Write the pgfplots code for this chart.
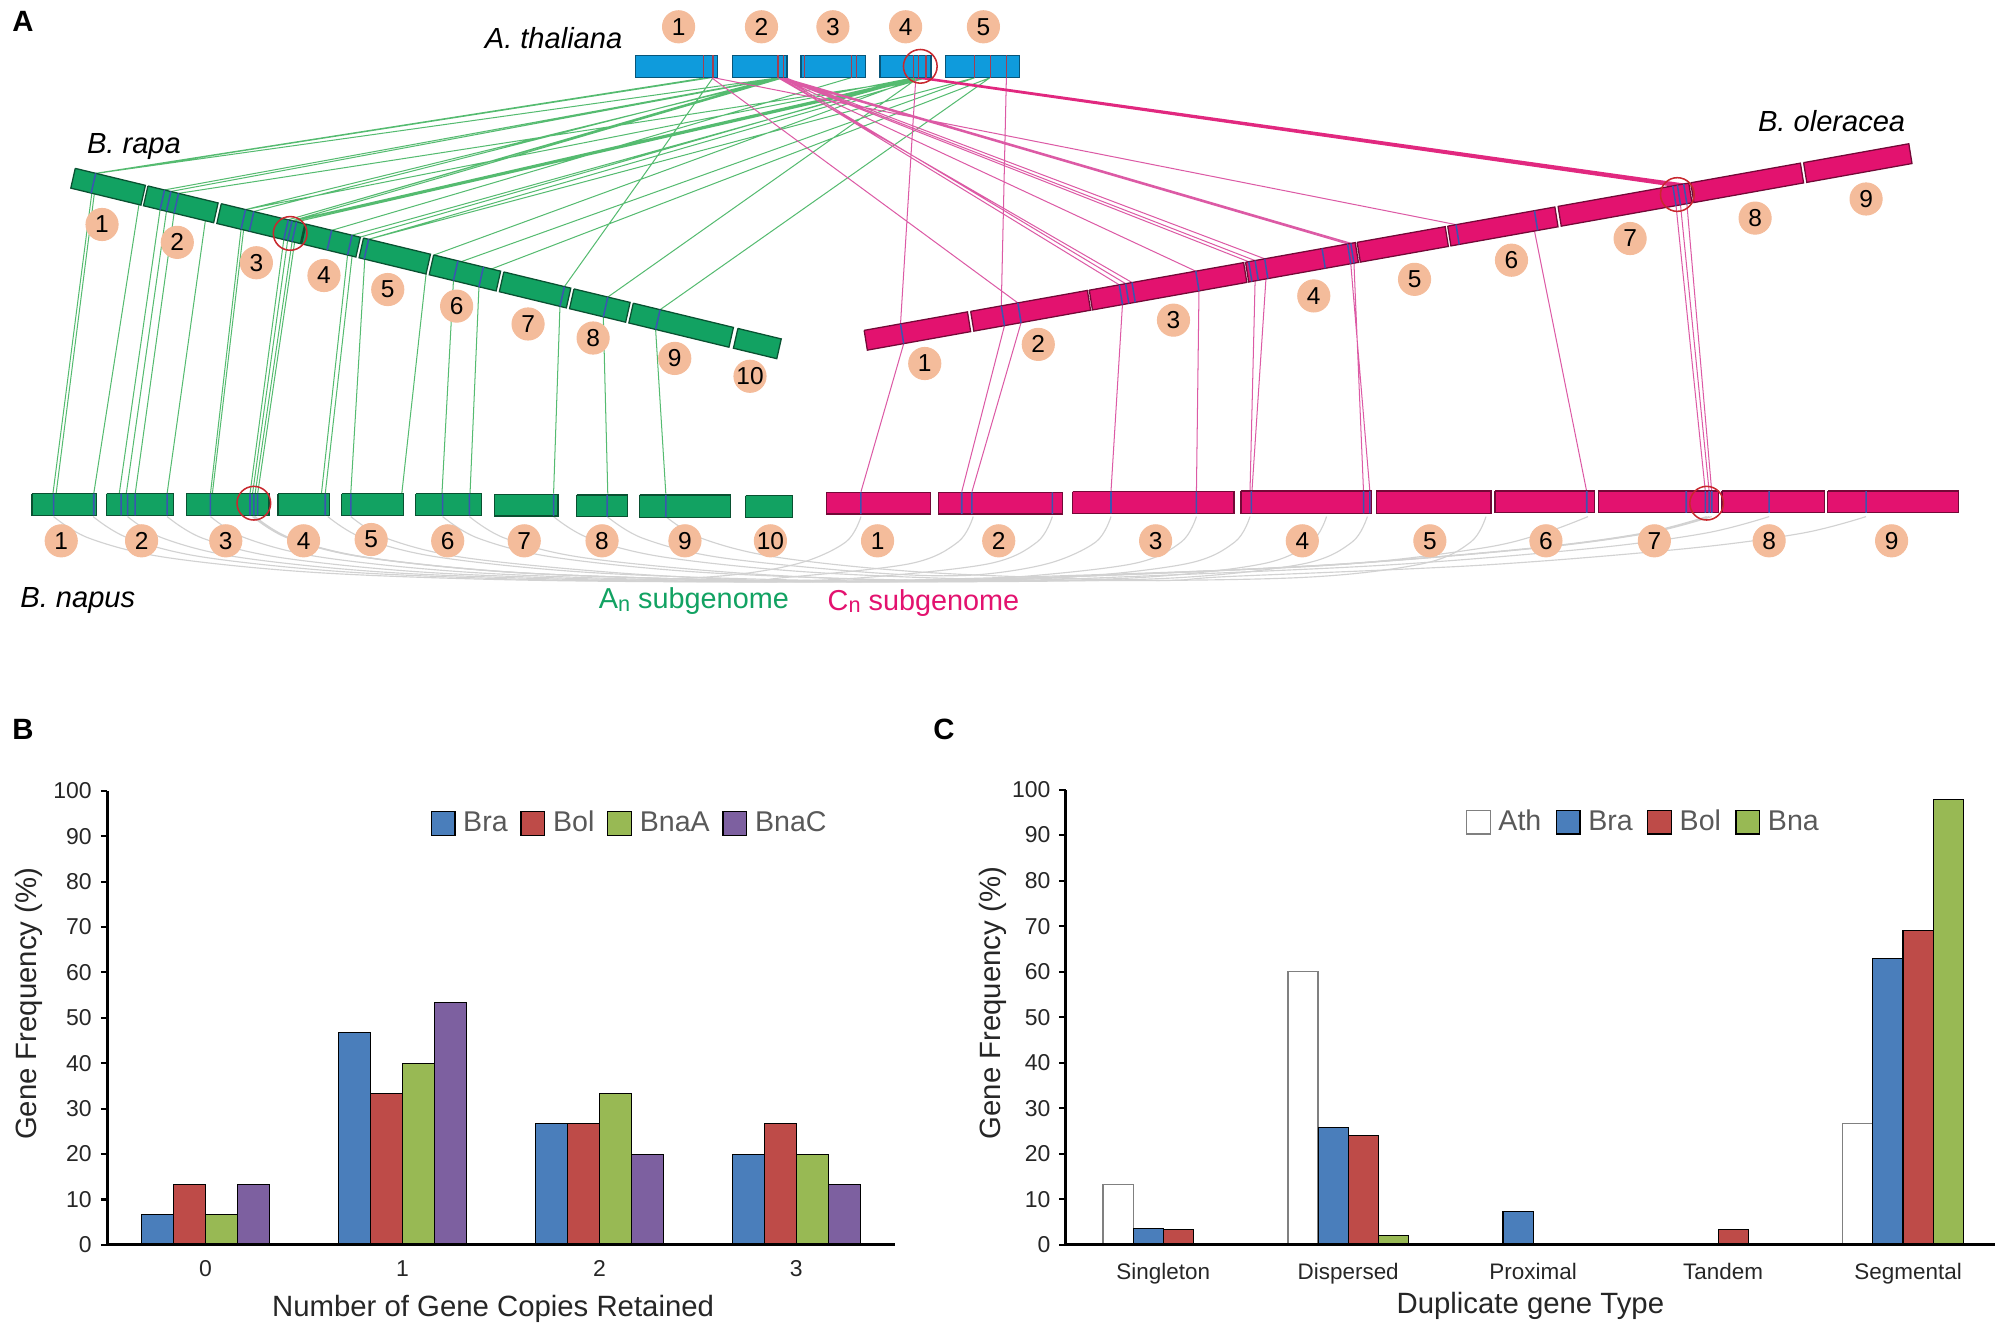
\documentclass[border=0pt]{standalone}
\usepackage{fontspec}
\setmainfont{Liberation Sans}
\usepackage{pgfplots}
\usepackage{pgfplotstable}
\pgfplotsset{compat=1.18}

\definecolor{barBlue}{HTML}{4A7EBB}
\definecolor{barRed}{HTML}{BE4B48}
\definecolor{barGreen}{HTML}{98B954}
\definecolor{barPurple}{HTML}{7D60A0}
\definecolor{atBlue}{HTML}{0F9BDC}
\definecolor{chrGreen}{HTML}{12A262}
\definecolor{chrPink}{HTML}{E3126F}
\definecolor{linkGreen}{HTML}{55BB70}
\definecolor{linkPink}{HTML}{DC5AA5}
\definecolor{bandBlue}{HTML}{3A55B0}
\definecolor{numCircle}{HTML}{F4BC9B}
\definecolor{ringRed}{HTML}{C8282E}
\definecolor{arcGrey}{HTML}{D2D2D2}
\definecolor{axText}{HTML}{262626}
\definecolor{legText}{HTML}{595959}

\pgfplotstableread{
cat Bra Bol BnaA BnaC
0 6.67 13.33 6.67 13.33
1 46.67 33.33 40 53.33
2 26.67 26.67 33.33 20
3 20 26.67 20 13.33
}\copies

\pgfplotstableread{
cat Ath Bra Bol Bna
0 13.33 3.5 3.3 0
1 60 25.8 24 2
2 0 7.4 0 0
3 0 0 3.3 0
4 26.67 62.8 69 97.8
}\dups

\pgfplotsset{
  freq/.style={
    scale only axis,
    ybar=0pt,
    ymin=0, ymax=100,
    ytick={0,10,...,100},
    xtick=data,
    axis x line*=bottom,
    axis y line*=left,
    axis on top,
    axis line style={line width=1.2pt,-},
    tick align=outside,
    ytick style={line width=0.8pt,black},
    xtick style={draw=none},
    major tick length=2.5pt,
    tick label style={font=\fontsize{9}{10}\selectfont,text=axText},
    /pgf/number format/assume math mode=true,
    label style={font=\fontsize{11.5}{13}\selectfont,text=axText},
    ylabel={Gene Frequency (\%)},
    legend columns=-1,
    legend cell align=left,
    legend image code/.code={\draw[##1,line width=0.5pt] (0pt,-4.6pt) rectangle (9.3pt,4.6pt);},
    legend style={draw=none,fill=none,anchor=west,inner sep=0pt,
      font=\fontsize{11.2}{13}\selectfont,text=legText,
      nodes={inner sep=0pt},
      /tikz/every odd column/.append style={column sep=3pt},
      /tikz/every even column/.append style={column sep=5pt}},
  },
  bar/.style={fill=#1,draw=black,line width=0.4pt},
}

\begin{document}
\begin{tikzpicture}
\path[use as bounding box] (0,0) rectangle (784pt,525.5pt);

% panel A, plotted in image coordinates
\begin{axis}[
  at={(0pt,0pt)}, anchor=south west,
  scale only axis, width=784pt, height=525.5pt,
  xmin=0, xmax=1568, ymin=0, ymax=1051, y dir=reverse,
  hide axis, unbounded coords=jump, clip=false,
]
% grey arcs inside B. napus
\pgfplotsset{arc/.style={arcGrey,line width=0.45pt,smooth,tension=0.55}}
\addplot[arc] coordinates {(42,405)(70,422)(130,437)(250,449)(422,455)(640,456)(840,452)(1040,443)(1200,430)(1290,418)(1340,405)};
\addplot[arc] coordinates {(73,405)(101,422)(161,437)(281,449)(453,455)(560,452)(625,442)(663,425)(675,405)};
\addplot[arc] coordinates {(100,405)(128,422)(188,437)(308,449)(480,455)(640,456)(845,451)(1045,443)(1160,430)(1210,418)(1245,405)};
\addplot[arc] coordinates {(131,405)(159,422)(219,437)(339,449)(511,455)(680,456)(830,453)(930,442)(968,425)(980,405)};
\addplot[arc] coordinates {(165,405)(193,422)(253,437)(373,449)(545,455)(772,456)(922,453)(1022,442)(1060,425)(1072,405)};
\addplot[arc] coordinates {(199,405)(227,422)(287,437)(407,449)(579,455)(700,456)(838,452)(1038,443)(1198,430)(1288,418)(1338,405)};
\addplot[arc] coordinates {(257,405)(285,422)(345,437)(465,449)(637,455)(790,455)(887,452)(1087,443)(1247,430)(1337,418)(1387,405)};
\addplot[arc] coordinates {(275,405)(303,422)(363,437)(483,449)(600,455)(675,453)(775,442)(813,425)(825,405)};
\addplot[arc] coordinates {(347,405)(375,422)(435,437)(555,449)(727,455)(842,452)(1042,443)(1202,430)(1292,418)(1342,405)};
\addplot[arc] coordinates {(368,405)(396,422)(456,437)(576,449)(700,455)(788,453)(888,442)(926,425)(938,405)};
\addplot[arc] coordinates {(434,405)(462,422)(522,437)(642,449)(814,455)(1015,453)(1115,442)(1153,425)(1165,405)};
\addplot[arc] coordinates {(476,405)(504,422)(564,437)(684,449)(760,451)(821,442)(859,425)(871,405)};
\addplot[arc] coordinates {(522,405)(550,422)(610,437)(730,449)(902,455)(963,452)(1163,443)(1323,430)(1413,418)(1463,405)};
\addplot[arc] coordinates {(198,405)(226,422)(286,437)(406,449)(578,455)(613,453)(713,442)(751,425)(763,405)};
\addplot[arc] coordinates {(200,405)(228,422)(288,437)(408,449)(580,455)(740,456)(890,453)(990,442)(1028,425)(1040,405)};

% links A. thaliana - B. rapa
\addplot[linkGreen,line width=0.4pt] coordinates {
(553,61)(75,135.9)(nan,nan)(555,61)(75.5,136)(nan,nan)(557,61)(76,136)(nan,nan)
(610,61)(75,136)(nan,nan)(610,61)(129,148.9)(nan,nan)(612,61)(134,150.1)(nan,nan)
(726,61)(140,151.6)(nan,nan)(614,61)(192.5,164.3)(nan,nan)(610,61)(199,165.8)(nan,nan)
(716,61)(192.5,164.3)(nan,nan)(612,61)(226,172.3)(nan,nan)(614,61)(229,173.1)(nan,nan)
(718,61)(229,173.1)(nan,nan)(720,61)(232.5,173.9)(nan,nan)(722,61)(230,173.3)(nan,nan)
(726,61)(232.5,173.9)(nan,nan)(667,61)(260,180.6)(nan,nan)(610,61)(226,172.3)(nan,nan)
(720,61)(276,184.4)(nan,nan)(726,61)(289,187.6)(nan,nan)(764,61)(289,187.6)(nan,nan)
(716,61)(282,186)(nan,nan)(720,61)(340,200)(nan,nan)(764,61)(362,205)(nan,nan)
(776,61)(385,211)(nan,nan)(559,61)(442.5,224.7)(nan,nan)(720,61)(476.5,232.9)(nan,nan)
(776,61)(517.5,242.8)
};
% links B. rapa - B. napus
\addplot[linkGreen,line width=0.4pt] coordinates {
(72,151.4)(41.5,387)(nan,nan)(74,151.4)(44,387)(nan,nan)(109,160)(73.5,387)(nan,nan)
(125.5,164.4)(93.5,387)(nan,nan)(130.5,165.6)(99,387)(nan,nan)(136.5,167.1)(106,387)(nan,nan)
(161,173)(131,387)(nan,nan)(189,179.8)(165,387)(nan,nan)(191,180)(166.5,387)(nan,nan)
(222.5,187.8)(196,387)(nan,nan)(225.5,188.6)(198,387)(nan,nan)(229,189.4)(200,387)(nan,nan)
(231,189.8)(202,387)(nan,nan)(272.5,199.9)(252,387)(nan,nan)(276,201)(255,387)(nan,nan)
(286,203)(275,387)(nan,nan)(334,215)(315,387)(nan,nan)(355.5,220)(346.5,387)(nan,nan)
(375.5,224.8)(368.5,387)(nan,nan)(439,240.2)(434,387)(nan,nan)(473,248.4)(476.5,387)(nan,nan)
(514,258.3)(522,387)
};
% links A. thaliana - B. oleracea
\addplot[linkPink,line width=0.4pt] coordinates {
(718,61)(706,253.9)(nan,nan)(789,61)(785,239.8)(nan,nan)(558,61)(798,237.5)(nan,nan)
(612,61)(877.5,223.3)(nan,nan)(614,61)(882.5,222.4)(nan,nan)(610,61)(887.5,221.5)(nan,nan)
(612,61)(937.5,212.6)(nan,nan)(612,61)(979,205.2)(nan,nan)(614,61)(984,204.3)(nan,nan)
(616,61)(991.5,202.9)(nan,nan)(610,61)(1056.5,191.3)(nan,nan)(612,61)(1059,190.9)(nan,nan)
(614,61)(1059.5,190.8)(nan,nan)(560,61)(1141.5,176.1)
};
\addplot[chrPink!70!linkPink,line width=0.5pt] coordinates {
(718,61)(1311.5,145.8)(nan,nan)(720,61)(1313,145.5)(nan,nan)(721,61)(1315,145.1)(nan,nan)
(723,61)(1318,144.6)(nan,nan)(725,61)(1320,144.3)
};
% links B. oleracea - B. napus
\addplot[linkPink,line width=0.4pt] coordinates {
(708.5,269.4)(675,385.5)(nan,nan)(787.5,255.3)(754,385.5)(nan,nan)(800.5,253)(762,385.5)(nan,nan)
(880,238.8)(871,385.5)(nan,nan)(940,228)(938,385.5)(nan,nan)(984,220)(980,385.5)(nan,nan)
(992.5,218.6)(981.5,385.5)(nan,nan)(1059,206.8)(1074,385.5)(nan,nan)(1061.5,206.4)(1069,385.5)(nan,nan)
(1203,181)(1244,385.5)(nan,nan)(1314,161.3)(1337,385.5)(nan,nan)(1317.5,160.6)(1340,385.5)(nan,nan)
(1322.5,159.8)(1342,385.5)
};

% chromosomes
\addplot[fill=atBlue,draw=atBlue!55!black,line width=0.5pt] coordinates {
(498.5,43.5)(562.5,43.5)(562.5,61)(498.5,61)(498.5,43.5)(nan,nan)
(574,43.5)(617,43.5)(617,61)(574,61)(574,43.5)(nan,nan)
(628,43.5)(678.5,43.5)(678.5,61)(628,61)(628,43.5)(nan,nan)
(690,43.5)(730,43.5)(730,61)(690,61)(690,43.5)(nan,nan)
(741.5,43.5)(799,43.5)(799,61)(741.5,61)(741.5,43.5)
};
\addplot[fill=chrGreen,draw=chrGreen!50!black,line width=0.5pt] coordinates {
(59,132)(114,145.3)(110.5,160.8)(55.5,147.5)(59,132)(nan,nan)
(116,145.8)(171,159.1)(167.5,174.6)(112.5,161.3)(116,145.8)(nan,nan)
(173.5,159.7)(239,175.5)(235.5,191)(170,175.2)(173.5,159.7)(nan,nan)
(240,175.7)(282.5,186)(279,201.5)(236.5,191.2)(240,175.7)(nan,nan)
(285,186.6)(337.5,199.3)(334,214.8)(281.5,202.1)(285,186.6)(nan,nan)
(340,199.9)(392.5,212.6)(389,228.1)(336.5,215.4)(340,199.9)(nan,nan)
(395,213.2)(447.5,225.9)(444,241.4)(391.5,228.7)(395,213.2)(nan,nan)
(450,226.5)(494,237.1)(490.5,252.6)(446.5,242)(450,226.5)(nan,nan)
(496.5,237.7)(575,256.7)(571.5,272.2)(493,253.2)(496.5,237.7)(nan,nan)
(578.5,257.5)(612.5,265.7)(609,281.2)(575,273)(578.5,257.5)
};
\addplot[fill=chrPink,draw=chrPink!50!black,line width=0.5pt] coordinates {
(677.5,259)(758.5,244.5)(761,260)(680,274.5)(677.5,259)(nan,nan)
(761,244.1)(852.5,227.7)(855,243.2)(763.5,259.6)(761,244.1)(nan,nan)
(854,227.5)(975,205.9)(977.5,221.4)(856.5,243)(854,227.5)(nan,nan)
(976.5,205.6)(1062.5,190.2)(1065,205.7)(979,221.1)(976.5,205.6)(nan,nan)
(1064,190)(1133,177.7)(1135.5,193.2)(1066.5,205.5)(1064,190)(nan,nan)
(1135,177.3)(1219,162.3)(1221.5,177.8)(1137.5,192.8)(1135,177.3)(nan,nan)
(1221.5,161.8)(1324,143.5)(1326.5,159)(1224,177.3)(1221.5,161.8)(nan,nan)
(1325.5,143.3)(1411.5,127.9)(1414,143.4)(1328,158.8)(1325.5,143.3)(nan,nan)
(1414,127.5)(1496.5,112.7)(1499,128.2)(1416.5,143)(1414,127.5)
};
\addplot[fill=chrGreen,draw=chrGreen!50!black,line width=0.5pt] coordinates {
(25,387)(75.5,387)(75.5,404)(25,404)(25,387)(nan,nan)
(83.5,387)(136,387)(136,404)(83.5,404)(83.5,387)(nan,nan)
(146,387)(211,387)(211,404)(146,404)(146,387)(nan,nan)
(218,387)(258.5,387)(258.5,404)(218,404)(218,387)(nan,nan)
(268,387)(316.5,387)(316.5,404)(268,404)(268,387)(nan,nan)
(326,387)(377.5,387)(377.5,404)(326,404)(326,387)(nan,nan)
(387.5,387.5)(437.5,387.5)(437.5,404.5)(387.5,404.5)(387.5,387.5)(nan,nan)
(452,388)(492,388)(492,405)(452,405)(452,388)(nan,nan)
(501.5,388)(572.5,388)(572.5,405.5)(501.5,405.5)(501.5,388)(nan,nan)
(584.5,388.5)(621.5,388.5)(621.5,405.5)(584.5,405.5)(584.5,388.5)
};
\addplot[fill=chrPink,draw=chrPink!50!black,line width=0.5pt] coordinates {
(648,386)(729.5,386)(729.5,403)(648,403)(648,386)(nan,nan)
(736,386)(833,386)(833,403)(736,403)(736,386)(nan,nan)
(841,385.5)(967.5,385.5)(967.5,402.5)(841,402.5)(841,385.5)(nan,nan)
(973,385)(1075.5,385)(1075.5,402.5)(973,402.5)(973,385)(nan,nan)
(1079,385)(1169,385)(1169,402.5)(1079,402.5)(1079,385)(nan,nan)
(1172,385)(1250,385)(1250,402)(1172,402)(1172,385)(nan,nan)
(1253,385)(1347.5,385)(1347.5,402)(1253,402)(1253,385)(nan,nan)
(1350,385)(1430.5,385)(1430.5,402)(1350,402)(1350,385)(nan,nan)
(1433,385)(1535.5,385)(1535.5,402)(1433,402)(1433,385)
};

% bands
\addplot[ringRed!80!atBlue,line width=0.5pt] coordinates {
(551.5,43.5)(551.5,61)(nan,nan)(559,43.5)(559,61)(nan,nan)(610,43.5)(610,61)(nan,nan)(614,43.5)(614,61)(nan,nan)
(631,43.5)(631,61)(nan,nan)(667.5,43.5)(667.5,61)(nan,nan)(671.5,43.5)(671.5,61)(nan,nan)
(716,43.5)(716,61)(nan,nan)(720,43.5)(720,61)(nan,nan)(726,43.5)(726,61)(nan,nan)
(764,43.5)(764,61)(nan,nan)(776.5,43.5)(776.5,61)(nan,nan)(789,43.5)(789,61)
};
\addplot[bandBlue,line width=0.6pt] coordinates {
(75,135.9)(71.5,151.4)(nan,nan)(129,148.9)(125.5,164.4)(nan,nan)(134,150.1)(130.5,165.6)(nan,nan)
(140,151.6)(136.5,167.1)(nan,nan)(192.5,164.3)(189,179.8)(nan,nan)(199,165.8)(195.5,181.3)(nan,nan)
(226,172.3)(222.5,187.8)(nan,nan)(229,173.1)(225.5,188.6)(nan,nan)(232.5,173.9)(229,189.4)(nan,nan)
(260,180.6)(256.5,196.1)(nan,nan)(276,184.4)(272.5,199.9)(nan,nan)(289,187.6)(285.5,203.1)(nan,nan)
(359,204.5)(355.5,220)(nan,nan)(379,209.3)(375.5,224.8)(nan,nan)(442.5,224.7)(439,240.2)(nan,nan)
(476.5,232.9)(473,248.4)(nan,nan)(517.5,242.8)(514,258.3)(nan,nan)
(706,253.9)(708.5,269.4)(nan,nan)(785,239.8)(787.5,255.3)(nan,nan)(798,237.5)(800.5,253)(nan,nan)
(877.5,223.3)(880,238.8)(nan,nan)(882.5,222.4)(885,237.9)(nan,nan)(887.5,221.5)(890,237)(nan,nan)
(937.5,212.6)(940,228.1)(nan,nan)(979,205.2)(981.5,220.7)(nan,nan)(984,204.3)(986.5,219.8)(nan,nan)
(991.5,202.9)(994,218.4)(nan,nan)(1036.5,194.9)(1039,210.4)(nan,nan)(1056.5,191.3)(1059,206.8)(nan,nan)
(1059,190.9)(1061.5,206.4)(nan,nan)(1141.5,176.1)(1144,191.6)(nan,nan)(1203,165.1)(1205.5,180.6)(nan,nan)
(1311.5,145.8)(1314,161.3)(nan,nan)(1315,145.1)(1317.5,160.6)(nan,nan)(1320,144.3)(1322.5,159.8)(nan,nan)
(42,387)(42,404)(nan,nan)(73.5,387)(73.5,404)(nan,nan)(95,387)(95,404)(nan,nan)(100,387)(100,404)(nan,nan)
(106,387)(106,404)(nan,nan)(131,387)(131,404)(nan,nan)(165,387)(165,404)(nan,nan)(196,387)(196,404)(nan,nan)
(199,387)(199,404)(nan,nan)(202,387)(202,404)(nan,nan)(255,387)(255,404)(nan,nan)(275,387)(275,404)(nan,nan)
(347,387)(347,404)(nan,nan)(368,387)(368,404)(nan,nan)(434,387.5)(434,404.5)(nan,nan)(476,388)(476,405)(nan,nan)
(522,388)(522,405.5)(nan,nan)
(675,386)(675,403)(nan,nan)(754,386)(754,403)(nan,nan)(762,386)(762,403)(nan,nan)(825,386)(825,403)(nan,nan)
(871,385.5)(871,402.5)(nan,nan)(938,385.5)(938,402.5)(nan,nan)(981,385)(981,402.5)(nan,nan)
(1069,385)(1069,402.5)(nan,nan)(1074,385)(1074,402.5)(nan,nan)(1244,385)(1244,402)(nan,nan)
(1322,385)(1322,402)(nan,nan)(1337,385)(1337,402)(nan,nan)(1340,385)(1340,402)(nan,nan)(1342,385)(1342,402)(nan,nan)
(1387,385)(1387,402)(nan,nan)(1463,385)(1463,402)
};

% rings
\addplot[only marks,mark=o,mark size=6.6pt,mark options={draw=ringRed,fill=none,line width=0.6pt}] coordinates {
(721.5,52)(227.5,183)(199,394.5)(1315,152.5)(1338,394.5)};

% number discs
\addplot[only marks,mark=*,mark size=6.3pt,mark options={fill=numCircle,draw=numCircle},
  point meta=explicit symbolic,nodes near coords,
  nodes near coords style={anchor=center,inner sep=0pt,text=black,font=\fontsize{9.6}{10}\selectfont},
] table[meta=l] {
x y l
532 21 1
597 21 2
653 21 3
710 21 4
771 21 5
80 176 1
139 190 2
201 206 3
254 216 4
304 227 5
358 240 6
414 254 7
465 265 8
529 281 9
588 295 10
725 285 1
814 270 2
920 251 3
1030 232 4
1109 219 5
1185 204 6
1278 187 7
1376 171 8
1463 156 9
48 424 1
111 424 2
177 424 3
238 424 4
291 423 5
351 424 6
411 424 7
472 424 8
537 424 9
604 424 10
688 424 1
783 424 2
906 424 3
1021 424 4
1121 424 5
1212 424 6
1297 424 7
1387 424 8
1483 424 9
};

\node[font=\fontsize{11.4}{13}\selectfont\itshape] at (axis cs:434,30) {A. thaliana};
\node[font=\fontsize{11.4}{13}\selectfont\itshape] at (axis cs:105,115) {B. rapa};
\node[font=\fontsize{11.4}{13}\selectfont\itshape] at (axis cs:1436,95) {B. oleracea};
\node[font=\fontsize{11.4}{13}\selectfont\itshape] at (axis cs:61,470.5) {B. napus};
\node[font=\fontsize{11.3}{13}\selectfont,text=chrGreen] at (axis cs:544,471.5) {A\raisebox{-0.15ex}{\fontsize{8.5}{9}\selectfont n} subgenome};
\node[font=\fontsize{11.3}{13}\selectfont,text=chrPink] at (axis cs:724,472.5) {C\raisebox{-0.15ex}{\fontsize{8.5}{9}\selectfont n} subgenome};
\node[font=\fontsize{11.5}{13}\selectfont\bfseries] at (axis cs:18,17) {A};
\node[font=\fontsize{11.5}{13}\selectfont\bfseries] at (axis cs:18,572) {B};
\node[font=\fontsize{11.5}{13}\selectfont\bfseries] at (axis cs:740,572) {C};
\end{axis}

% panel B
\begin{axis}[
  freq,
  at={(42pt,37.5pt)}, anchor=south west,
  width=308.75pt, height=178pt,
  bar width=0.162,
  xmin=-0.5, xmax=3.5,
  xticklabels={0,1,2,3},
  xlabel={Number of Gene Copies Retained},
  x label style={at={(axis description cs:0.49,-0.14)},anchor=center},
  y label style={at={(axis description cs:-0.099,0.531)},anchor=center},
  legend style={at={(axis description cs:0.41,0.928)}},
]
\addplot[bar=barBlue] table[x=cat,y=Bra] {\copies};
\addplot[bar=barRed] table[x=cat,y=Bol] {\copies};
\addplot[bar=barGreen] table[x=cat,y=BnaA] {\copies};
\addplot[bar=barPurple] table[x=cat,y=BnaC] {\copies};
\legend{Bra,Bol,BnaA,BnaC}
\end{axis}

% panel C
\begin{axis}[
  freq,
  at={(417.8pt,37.5pt)}, anchor=south west,
  width=364.2pt, height=178.5pt,
  bar width=0.163,
  xmin=-0.527, xmax=4.497,
  xticklabels={Singleton\hspace{4pt},Dispersed,Proximal,\hspace*{4pt}Tandem,\hspace*{4pt}\raisebox{1pt}{Segmental}},
  x tick label style={font=\fontsize{8.8}{10}\selectfont,text=axText,yshift=-1pt},
  xlabel={Duplicate gene Type},
  x label style={at={(axis description cs:0.5,-0.134)},anchor=center},
  y label style={at={(axis description cs:-0.079,0.531)},anchor=center},
  legend style={at={(axis description cs:0.43,0.928)},
    /tikz/every even column/.append style={column sep=5.6pt}},
]
\addplot[fill=white,draw=black!50,line width=0.5pt] table[x=cat,y=Ath] {\dups};
\addplot[bar=barBlue] table[x=cat,y=Bra] {\dups};
\addplot[bar=barRed] table[x=cat,y=Bol] {\dups};
\addplot[bar=barGreen] table[x=cat,y=Bna] {\dups};
\legend{Ath,Bra,Bol,Bna}
\end{axis}
\end{tikzpicture}
\end{document}
